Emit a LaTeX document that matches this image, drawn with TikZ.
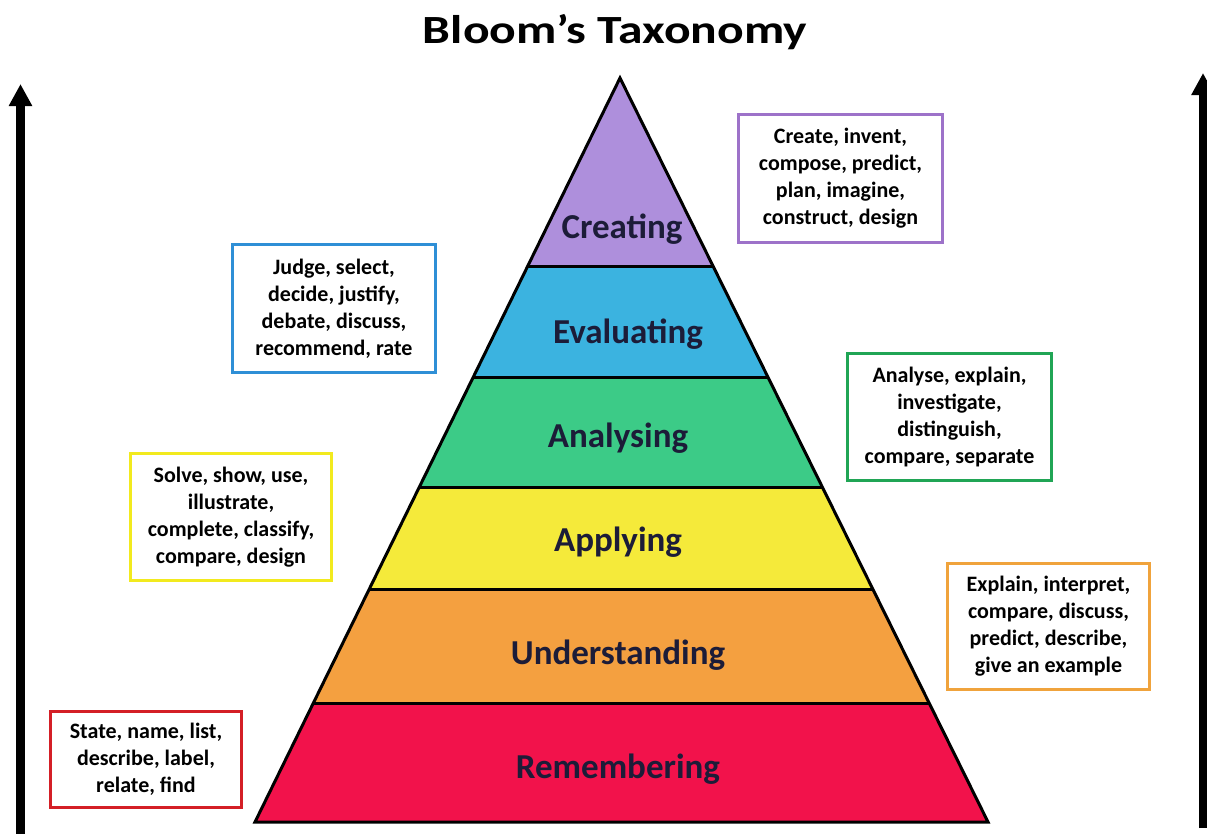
\documentclass[tikz,border=0pt]{standalone}
\usepackage{fontspec}
\setmainfont{Carlito}
\usetikzlibrary{calc,arrows.meta}
\definecolor{cCreate}{HTML}{AE8FDC}
\definecolor{cEval}{HTML}{3BB3E0}
\definecolor{cAnal}{HTML}{3CCB87}
\definecolor{cApply}{HTML}{F5EA3A}
\definecolor{cUnder}{HTML}{F4A040}
\definecolor{cRemem}{HTML}{F2124B}
\definecolor{bCreate}{HTML}{9D72C9}
\definecolor{bEval}{HTML}{2F8FD6}
\definecolor{bAnal}{HTML}{20A555}
\definecolor{bApply}{HTML}{F2EA1E}
\definecolor{bUnder}{HTML}{F0A33C}
\definecolor{bRemem}{HTML}{D41F26}
\definecolor{labtext}{HTML}{1C1C38}
\begin{document}
\begin{tikzpicture}[x=1pt,y=-1pt,
  wordbox/.style={draw, line width=3pt, fill=white, align=center, inner sep=0pt,
    font=\bfseries\fontsize{22}{27}\selectfont},
  level/.style={font=\bfseries\fontsize{35}{35}\selectfont, text=labtext},
  bigarrow/.style={line width=9pt, -{Triangle[length=22pt,width=22pt]}}]
\useasboundingbox (0,0) rectangle (1207,833);
\fill[white] (0,0) rectangle (1207,833);
% pyramid geometry
\coordinate (apex) at (620,78);
\coordinate (bl) at (255,822);
\coordinate (br) at (988,822);
\foreach \n/\t in {1/0.254,2/0.403,3/0.550,4/0.688,5/0.841}{
  \coordinate (L\n) at ($(apex)!\t!(bl)$);
  \coordinate (R\n) at ($(apex)!\t!(br)$);
}
\fill[cCreate] (apex) -- (R1) -- (L1) -- cycle;
\fill[cEval] (L1) -- (R1) -- (R2) -- (L2) -- cycle;
\fill[cAnal] (L2) -- (R2) -- (R3) -- (L3) -- cycle;
\fill[cApply] (L3) -- (R3) -- (R4) -- (L4) -- cycle;
\fill[cUnder] (L4) -- (R4) -- (R5) -- (L5) -- cycle;
\fill[cRemem] (L5) -- (R5) -- (br) -- (bl) -- cycle;
\foreach \n in {1,...,5}{ \draw[line width=3pt] (L\n) -- (R\n); }
\draw[line width=3pt, line join=miter] (apex) -- (br) -- (bl) -- cycle;
% level labels
\node[level] (creating) at (622,229) {Creating};
\node[level] (evaluating) at (628,334) {Evaluating};
\node[level] (analysing) at (618,438) {Analysing};
\node[level] (applying) at (618,542) {Applying};
\node[level] (understanding) at (618,655) {Understanding};
\node[level] (remembering) at (618,769) {Remembering};
% title
\node[font=\bfseries\fontsize{40}{40}\selectfont] (title) at (615,32) {\scalebox{1.24}[1]{Bloom’s Taxonomy}};
% word boxes
\node[wordbox, draw=bCreate, minimum width=204pt, minimum height=128pt] (boxcreate) at (840.5,178.5)
  {Create, invent,\\compose, predict,\\plan, imagine,\\construct, design};
\node[wordbox, draw=bEval, minimum width=203pt, minimum height=128pt] (boxeval) at (334,308.5)
  {Judge, select,\\decide, justify,\\debate, discuss,\\recommend, rate};
\node[wordbox, draw=bAnal, minimum width=204pt, minimum height=127pt] (boxanal) at (949.5,417)
  {Analyse, explain,\\investigate,\\distinguish,\\compare, separate};
\node[wordbox, draw=bApply, minimum width=201pt, minimum height=127pt] (boxapply) at (231,517)
  {Solve, show, use,\\illustrate,\\complete, classify,\\compare, design};
\node[wordbox, draw=bUnder, minimum width=202pt, minimum height=126pt] (boxunder) at (1048.5,626.5)
  {Explain, interpret,\\compare, discuss,\\predict, describe,\\give an example};
\node[wordbox, draw=bRemem, minimum width=191pt, minimum height=96pt] (boxremem) at (146,759.5)
  {State, name, list,\\describe, label,\\relate, find};
% side arrows
\coordinate (la0) at (20.5,840);
\coordinate (la1) at (20.5,84);
\coordinate (ra0) at (1203,828);
\coordinate (ra1) at (1203,73);
\draw[bigarrow] (la0) -- (la1);
\draw[bigarrow] (ra0) -- (ra1);
\end{tikzpicture}
\end{document}
